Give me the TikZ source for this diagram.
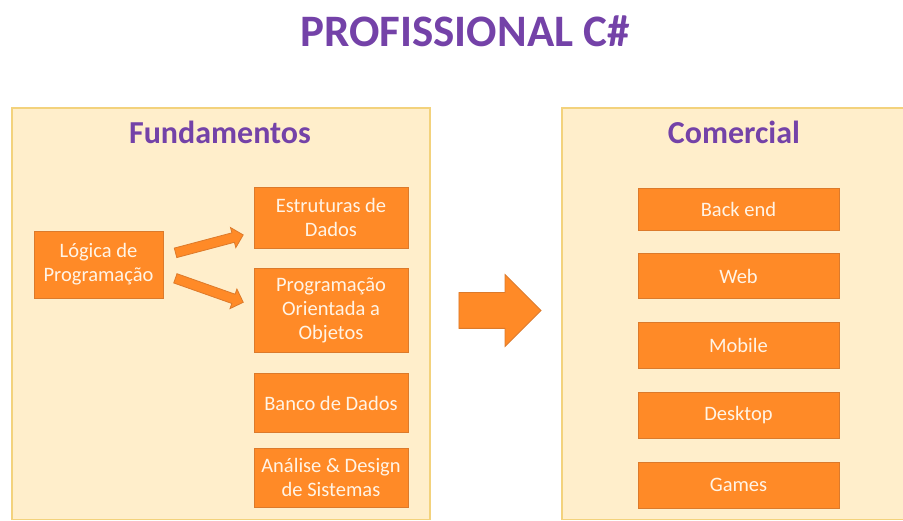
\documentclass[tikz,border=0pt]{standalone}
\usepackage{fontspec}
\setmainfont{Carlito}
\usepackage{xcolor}
\usepackage{tikz}
\usetikzlibrary{positioning,shapes.arrows}
\definecolor{purpletitle}{HTML}{7442A8}
\definecolor{panelfill}{HTML}{FFEECB}
\definecolor{paneldraw}{HTML}{F3D27C}
\definecolor{orangebox}{HTML}{FF8A27}
\definecolor{orangedraw}{HTML}{DC7A2B}
\definecolor{boxtext}{HTML}{FFF4E6}

\tikzset{
  panel/.style={fill=panelfill, draw=paneldraw, line width=1.5pt},
  heading/.style={text=purpletitle, font=\fontsize{32}{38}\selectfont\bfseries},
  topic/.style={fill=orangebox, draw=orangedraw, line width=0.8pt, text=boxtext,
                align=center, inner sep=0pt, font=\fontsize{20.5}{24}\selectfont},
  fatarrow/.style={single arrow, fill=orangebox, draw=orangedraw, line width=0.8pt,
                   inner sep=4.5pt, single arrow head extend=5.5pt},
}

\begin{document}
\begin{tikzpicture}[x=1pt, y=-1pt, node distance=20pt]
\useasboundingbox (0,0) rectangle (903,521);

% titulo
\node[text=purpletitle, font=\fontsize{45}{54}\selectfont\bfseries] (titulo) at (465,31) {PROFISSIONAL C\#};

% paineis
\draw[panel] (12,108) rectangle (430,519.5);
\draw[panel] (562,108) rectangle (912,519.5);
\node[heading] (fund) at (220,132) {Fundamentos};
\node[heading] (com) at (734,132) {Comercial};

% fundamentos
\node[topic, minimum width=129pt, minimum height=67pt] (logica) at (98.5,264.5) {L\'ogica de\\Programa\c{c}\~ao};
\node[topic, minimum width=154pt, minimum height=61pt] (estr) at (331,217.5) {Estruturas de\\Dados};
\node[topic, minimum width=154pt, minimum height=84pt, below=20pt of estr] (poo) {Programa\c{c}\~ao\\Orientada a\\Objetos};
\node[topic, minimum width=154pt, minimum height=59pt, below=20pt of poo] (banco) {Banco de Dados};
\node[topic, minimum width=154pt, minimum height=59pt, below=15pt of banco] (analise) {An\'alise \& Design\\de Sistemas};

\coordinate (up-s) at (173,253.5);
\coordinate (up-e) at (241,235.5);
\coordinate (dn-s) at (173,277.5);
\coordinate (dn-e) at (241,301.5);
\path (up-s) -- node[fatarrow, sloped, minimum height=70pt] (seta1) {} (up-e);
\path (dn-s) -- node[fatarrow, sloped, minimum height=72pt] (seta2) {} (dn-e);

% passagem
\node[fatarrow, inner sep=17.5pt, single arrow head extend=18pt, minimum height=82pt] (passo) at (491,310.5) {};

% comercial
\node[topic, minimum width=201pt, minimum height=42pt] (backend) at (738.5,209) {Back end};
\node[topic, minimum width=201pt, minimum height=45pt, below=23pt of backend] (web) {Web};
\node[topic, minimum width=201pt, minimum height=46pt, below=23pt of web] (mobile) {Mobile};
\node[topic, minimum width=201pt, minimum height=46pt, below=23pt of mobile] (desktop) {Desktop};
\node[topic, minimum width=201pt, minimum height=46pt, below=23pt of desktop] (games) {Games};
\end{tikzpicture}
\end{document}
